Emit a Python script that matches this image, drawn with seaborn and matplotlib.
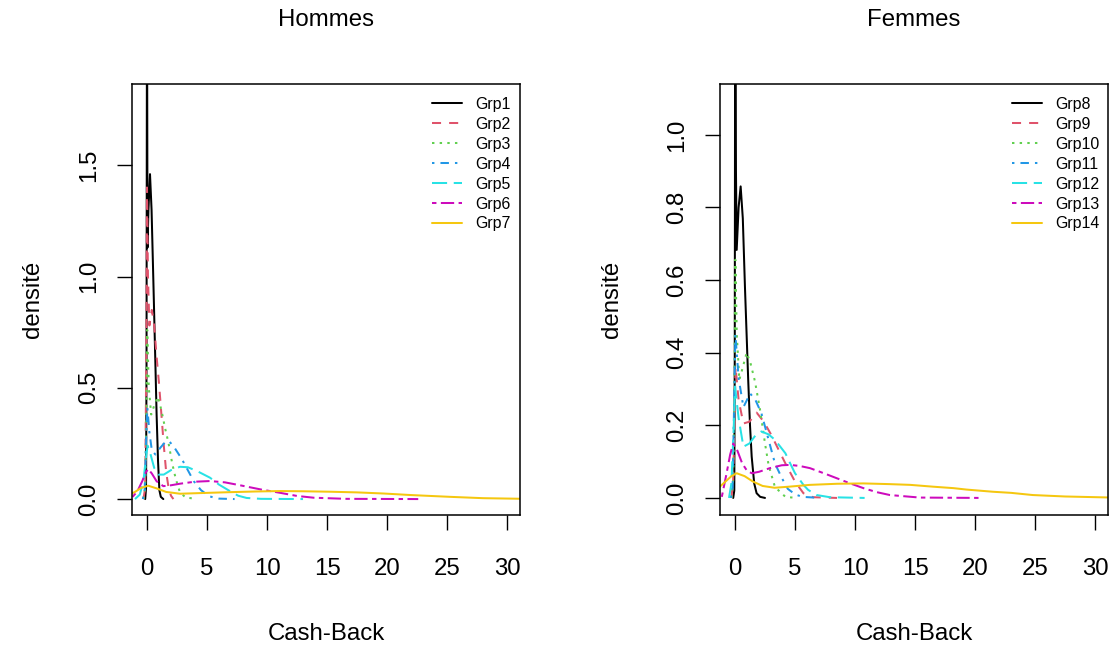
import matplotlib
matplotlib.use("Agg")
import matplotlib.pyplot as plt
from matplotlib.lines import Line2D
import pandas as pd
import seaborn as sns

# ---- density curves (Cash-Back value, estimated density) ----
# Hommes
g1_x = [-0.15, -0.08, -0.04, 0.0, 0.04, 0.12, 0.25, 0.38, 0.53, 0.68, 0.8, 0.92, 1.03, 1.15, 1.36]
g1_y = [0.0, 0.05, 0.6, 2.4, 1.13, 1.3, 1.46, 1.3, 0.98, 0.65, 0.38, 0.17, 0.04, 0.01, 0.0]
g2_x = [-0.3, -0.15, -0.05, 0.0, 0.08, 0.2, 0.4, 0.6, 0.8, 1.0, 1.2, 1.4, 1.6, 1.8, 2.0, 2.2]
g2_y = [0.0, 0.05, 0.7, 1.40, 1.0, 0.78, 0.85, 0.78, 0.64, 0.52, 0.38, 0.24, 0.12, 0.05, 0.015, 0.0]
g3_x = [-0.3, -0.15, -0.05, 0.02, 0.15, 0.35, 0.6, 0.9, 1.2, 1.5, 1.8, 2.1, 2.4, 2.75, 3.2, 4.1]
g3_y = [0.0, 0.05, 0.4, 0.76, 0.5, 0.38, 0.42, 0.46, 0.40, 0.32, 0.25, 0.16, 0.09, 0.03, 0.008, 0.0]
g4_x = [-0.35, -0.2, -0.05, 0.03, 0.2, 0.4, 0.7, 1.1, 1.5, 1.85, 2.3, 2.9, 3.4, 3.9, 4.5, 5.2, 6.0, 7.3]
g4_y = [0.0, 0.03, 0.3, 0.41, 0.3, 0.22, 0.2, 0.23, 0.255, 0.26, 0.23, 0.18, 0.13, 0.08, 0.04, 0.012, 0.002, 0.0]
g5_x = [-1.0, -0.6, -0.3, -0.1, 0.05, 0.3, 0.6, 0.95, 1.4, 2.0, 2.75, 3.4, 4.2, 5.25, 6.0, 6.9, 7.6, 8.3, 9.5, 13.0]
g5_y = [0.0, 0.02, 0.08, 0.18, 0.24, 0.2, 0.14, 0.11, 0.11, 0.13, 0.145, 0.143, 0.125, 0.096, 0.065, 0.036, 0.015, 0.005, 0.001, 0.0]
g6_x = [-1.2, -0.8, -0.4, -0.1, 0.1, 0.4, 0.8, 1.36, 2.0, 2.75, 4.0, 5.25, 6.5, 7.75, 9.5, 11.1, 12.5, 13.9, 16.6, 22.6]
g6_y = [0.01, 0.035, 0.08, 0.12, 0.135, 0.115, 0.08, 0.058, 0.062, 0.069, 0.078, 0.081, 0.075, 0.062, 0.043, 0.028, 0.014, 0.006, 0.001, 0.0]
g7_x = [-1.5, -1.0, -0.5, 0.1, 0.8, 1.6, 2.75, 4.5, 6.9, 9.0, 11.1, 13.0, 15.25, 17.5, 19.7, 22.0, 25.25, 28.0, 31.5]
g7_y = [0.02, 0.032, 0.05, 0.06, 0.048, 0.032, 0.024, 0.027, 0.031, 0.034, 0.036, 0.035, 0.033, 0.03, 0.025, 0.018, 0.01, 0.004, 0.001]

# Femmes
g8_x = [-0.15, -0.06, -0.02, 0.02, 0.08, 0.14, 0.3, 0.47, 0.65, 0.83, 1.1, 1.25, 1.39, 1.6, 1.8, 2.1, 2.5]
g8_y = [0.0, 0.02, 0.4, 1.6, 0.9, 0.683, 0.8, 0.858, 0.77, 0.58, 0.325, 0.2, 0.114, 0.04, 0.013, 0.003, 0.0]
g9_x = [-0.3, -0.15, -0.05, 0.05, 0.3, 0.7, 1.2, 1.8, 2.4, 3.0, 3.6, 4.2, 5.0, 5.7, 6.5, 8.5]
g9_y = [0.0, 0.05, 0.2, 0.36, 0.27, 0.205, 0.21, 0.235, 0.21, 0.175, 0.135, 0.095, 0.045, 0.013, 0.002, 0.0]
g10_x = [-0.3, -0.15, -0.05, 0.03, 0.15, 0.36, 0.65, 0.97, 1.3, 1.67, 2.1, 2.5, 2.8, 3.33, 4.2, 5.1]
g10_y = [0.0, 0.05, 0.3, 0.656, 0.45, 0.325, 0.36, 0.4, 0.37, 0.32, 0.24, 0.15, 0.09, 0.03, 0.003, 0.0]
g11_x = [-0.35, -0.2, -0.05, 0.03, 0.3, 0.7, 1.0, 1.25, 1.7, 2.2, 2.8, 3.33, 3.9, 4.4, 5.0, 5.6, 7.1]
g11_y = [0.0, 0.03, 0.3, 0.45, 0.33, 0.25, 0.27, 0.288, 0.27, 0.233, 0.16, 0.095, 0.055, 0.025, 0.01, 0.003, 0.0]
g12_x = [-0.5, -0.3, -0.1, 0.0, 0.3, 0.7, 1.2, 1.7, 2.2, 2.8, 3.33, 3.8, 4.2, 4.6, 5.0, 5.7, 6.1, 6.8, 7.9, 10.8]
g12_y = [0.0, 0.04, 0.2, 0.307, 0.22, 0.141, 0.15, 0.172, 0.183, 0.175, 0.16, 0.14, 0.123, 0.095, 0.068, 0.036, 0.022, 0.008, 0.002, 0.0]
g13_x = [-1.1, -0.7, -0.4, -0.14, 0.2, 0.6, 1.0, 1.4, 2.0, 2.9, 3.9, 4.6, 5.4, 6.25, 7.4, 8.5, 9.6, 10.7, 11.8, 12.9, 15.4, 20.6]
g13_y = [0.003, 0.068, 0.12, 0.15, 0.13, 0.095, 0.075, 0.068, 0.072, 0.082, 0.09, 0.091, 0.088, 0.082, 0.068, 0.054, 0.04, 0.027, 0.016, 0.008, 0.001, 0.0]
g14_x = [-1.3, -0.8, -0.3, 0.14, 0.8, 1.5, 2.3, 3.3, 4.5, 6.25, 8.5, 10.7, 12.9, 14.6, 16.5, 18.2, 19.3, 21.5, 23.0, 24.8, 27.5, 31.5]
g14_y = [0.03, 0.045, 0.06, 0.068, 0.06, 0.045, 0.033, 0.028, 0.031, 0.036, 0.039, 0.04, 0.038, 0.036, 0.031, 0.027, 0.023, 0.017, 0.014, 0.008, 0.004, 0.001]

hommes_groups = ["Grp1", "Grp2", "Grp3", "Grp4", "Grp5", "Grp6", "Grp7"]
femmes_groups = ["Grp8", "Grp9", "Grp10", "Grp11", "Grp12", "Grp13", "Grp14"]
hommes_curves = [(g1_x, g1_y), (g2_x, g2_y), (g3_x, g3_y), (g4_x, g4_y),
                 (g5_x, g5_y), (g6_x, g6_y), (g7_x, g7_y)]
femmes_curves = [(g8_x, g8_y), (g9_x, g9_y), (g10_x, g10_y), (g11_x, g11_y),
                 (g12_x, g12_y), (g13_x, g13_y), (g14_x, g14_y)]

hommes_yticks = [0.0, 0.5, 1.0, 1.5]
femmes_yticks = [0.0, 0.2, 0.4, 0.6, 0.8, 1.0]
xticks = [0, 5, 10, 15, 20, 25, 30]

# ---- styling: R palette and R line types ----
line_colors = ["#000000", "#DF536B", "#61D04F", "#2297E6", "#28E2E5", "#CD0BBC", "#F5C710"]
line_dashes = ["", (4.5, 4.0), (1.2, 2.6), (1.2, 3.0, 4.2, 3.0), (7.5, 3.3), (2.2, 2.2, 6.6, 2.2), ""]

sns.set_style("ticks")
plt.rcParams["font.family"] = ["Liberation Sans", "DejaVu Sans"]
plt.rcParams["text.color"] = "black"
plt.rcParams["axes.labelcolor"] = "black"

W, H = 1113, 646
fig = plt.figure(figsize=(W / 100, H / 100), dpi=100)
fig.patch.set_facecolor("white")

LW = 1.45
TXT = 17.3


def frame(df_groups, curves):
    parts = []
    for name, (xs, ys) in zip(df_groups, curves):
        parts.append(pd.DataFrame({"cb": xs, "dens": ys, "grp": name}))
    return pd.concat(parts, ignore_index=True)


def panel(left_px, groups, curves, yticks, ylim, title, legend_left_px, ylab_off):
    ax = fig.add_axes([left_px / W, 1 - 515 / H, 388 / W, 431 / H])
    df = frame(groups, curves)
    sns.lineplot(data=df, x="cb", y="dens", hue="grp", style="grp",
                 palette=dict(zip(groups, line_colors)),
                 dashes=dict(zip(groups, line_dashes)),
                 sort=False, estimator=None, linewidth=LW, legend=False, ax=ax)
    ax.set_xlim(-1.25, 31.08)
    ax.set_ylim(*ylim)
    ax.set_xticks(xticks)
    ax.set_xticklabels([str(v) for v in xticks])
    ax.set_yticks(yticks)
    ax.set_yticklabels([f"{v:.1f}" for v in yticks], rotation=90, va="center")
    for s in ax.spines.values():
        s.set_visible(True)
        s.set_linewidth(1.1)
        s.set_color("black")
    ax.tick_params(axis="both", direction="out", length=11, width=1.0,
                   color="black", labelsize=TXT, labelcolor="black")
    ax.tick_params(axis="x", pad=20)
    ax.tick_params(axis="y", pad=12)
    ax.grid(False)
    ax.set_facecolor("white")

    ax.set_xlabel("Cash-Back", fontsize=TXT, color="black")
    ax.xaxis.set_label_coords(0.5, (515 - 634) / 431)
    ax.xaxis.label.set_va("center")
    ax.set_ylabel("densité", fontsize=TXT, color="black")
    ax.yaxis.set_label_coords(ylab_off / 388, 0.5)
    ax.yaxis.label.set_va("center")
    ax.text(0.5, (515 - 20) / 431, title, transform=ax.transAxes,
            ha="center", va="center", fontsize=TXT, color="black")

    handles = [Line2D([], [], color=c, linewidth=LW,
                      linestyle="-" if d == "" else (0, d))
               for c, d in zip(line_colors, line_dashes)]
    leg = ax.legend(handles, groups, loc="upper left",
                    bbox_to_anchor=(legend_left_px / W, 1 - 97 / H),
                    bbox_transform=fig.transFigure, frameon=False,
                    fontsize=11.4, handlelength=1.9, handletextpad=0.8,
                    labelspacing=0.31, borderpad=0, borderaxespad=0)
    for t in leg.get_texts():
        t.set_color("black")
    return ax


panel(132, hommes_groups, hommes_curves, hommes_yticks, (-0.0716, 1.865),
      "Hommes", 432, -99)
panel(720, femmes_groups, femmes_curves, femmes_yticks, (-0.047, 1.14),
      "Femmes", 1012, -108)

fig.savefig("out.png", dpi=100, facecolor="white")
